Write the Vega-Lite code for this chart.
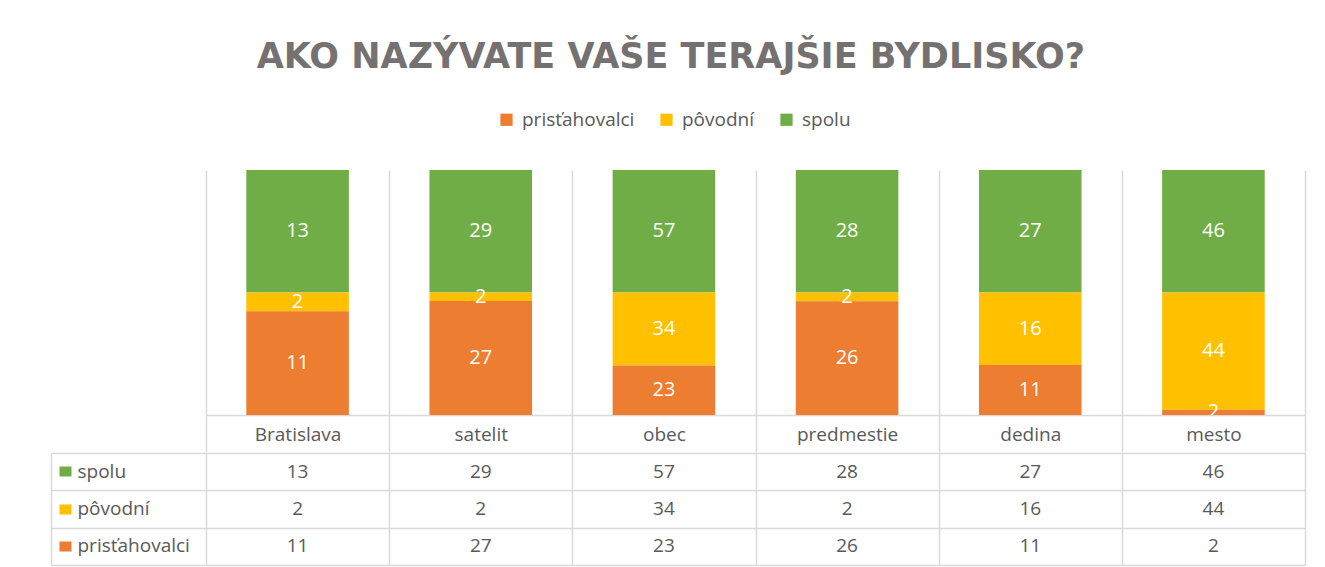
{
  "$schema": "https://vega.github.io/schema/vega-lite/v6.json",
  "background": "white",
  "padding": {"left": 46, "top": 40, "right": 25, "bottom": 3},
  "title": {
    "text": "AKO NAZÝVATE VAŠE TERAJŠIE BYDLISKO?",
    "font": "DejaVu Sans",
    "fontSize": 35,
    "fontWeight": "bold",
    "color": "#767171",
    "anchor": "middle",
    "dx": -5,
    "offset": 35
  },
  "datasets": {
    "d": [
      {"kategoria": "Bratislava", "skupina": "spolu", "pocet": 13},
      {"kategoria": "Bratislava", "skupina": "pôvodní", "pocet": 2},
      {"kategoria": "Bratislava", "skupina": "prisťahovalci", "pocet": 11},
      {"kategoria": "satelit", "skupina": "spolu", "pocet": 29},
      {"kategoria": "satelit", "skupina": "pôvodní", "pocet": 2},
      {"kategoria": "satelit", "skupina": "prisťahovalci", "pocet": 27},
      {"kategoria": "obec", "skupina": "spolu", "pocet": 57},
      {"kategoria": "obec", "skupina": "pôvodní", "pocet": 34},
      {"kategoria": "obec", "skupina": "prisťahovalci", "pocet": 23},
      {"kategoria": "predmestie", "skupina": "spolu", "pocet": 28},
      {"kategoria": "predmestie", "skupina": "pôvodní", "pocet": 2},
      {"kategoria": "predmestie", "skupina": "prisťahovalci", "pocet": 26},
      {"kategoria": "dedina", "skupina": "spolu", "pocet": 27},
      {"kategoria": "dedina", "skupina": "pôvodní", "pocet": 16},
      {"kategoria": "dedina", "skupina": "prisťahovalci", "pocet": 11},
      {"kategoria": "mesto", "skupina": "spolu", "pocet": 46},
      {"kategoria": "mesto", "skupina": "pôvodní", "pocet": 44},
      {"kategoria": "mesto", "skupina": "prisťahovalci", "pocet": 2}
    ]
  },
  "spacing": -2,
  "vconcat": [
    {
      "width": 1099,
      "height": 245,
      "data": {"name": "d"},
      "layer": [
        {
          "mark": {"type": "bar", "width": {"band": 0.56}},
          "encoding": {
            "x": {
              "field": "kategoria", "type": "nominal",
              "sort": ["Bratislava", "satelit", "obec", "predmestie", "dedina", "mesto"],
              "scale": {"paddingInner": 0, "paddingOuter": 0},
              "axis": {
                "title": null, "orient": "bottom",
                "domain": true, "domainColor": "#d9d9d9", "domainWidth": 1.5,
                "grid": true, "gridColor": "#d9d9d9", "gridWidth": 1.5,
                "tickBand": "extent", "ticks": true, "tickSize": 37, "tickColor": "#d9d9d9", "tickWidth": 1.5,
                "labelFont": "Open Sans", "labelFontSize": 19, "labelColor": "#595959",
                "labelPadding": -18, "labelBaseline": "middle", "labelAngle": 0,
                "minExtent": 37, "maxExtent": 37
              }
            },
            "y": {
              "field": "pocet", "type": "quantitative", "stack": "normalize",
              "axis": {"title": null, "labels": true, "labelOpacity": 0, "ticks": false, "domain": false, "grid": false, "minExtent": 155, "maxExtent": 155}
            },
            "color": {
              "field": "skupina", "type": "nominal",
              "scale": {"domain": ["prisťahovalci", "pôvodní", "spolu"], "range": ["#ED7D31", "#FFC000", "#70AD47"]},
              "legend": {
                "title": null, "orient": "none", "legendX": 291, "legendY": -60,
                "direction": "horizontal", "symbolType": "square", "symbolSize": 150,
                "symbolStrokeWidth": 0,
                "labelFont": "Open Sans", "labelFontSize": 19, "labelColor": "#595959",
                "columnPadding": 22, "labelOffset": 6
              }
            },
            "order": {"field": "skupina", "sort": "ascending"}
          }
        },
        {
          "mark": {"type": "text", "color": "white", "font": "Open Sans", "fontSize": 20, "clip": true},
          "encoding": {
            "x": {"field": "kategoria", "type": "nominal", "sort": ["Bratislava", "satelit", "obec", "predmestie", "dedina", "mesto"]},
            "y": {"field": "pocet", "type": "quantitative", "stack": "normalize", "bandPosition": 0.5},
            "detail": {"field": "skupina"},
            "order": {"field": "skupina", "sort": "ascending"},
            "text": {"field": "pocet"}
          }
        }
      ]
    },
    {
      "width": 1099,
      "height": 112,
      "data": {"name": "d"},
      "layer": [
        {
          "mark": {"type": "text", "font": "Open Sans", "fontSize": 19, "color": "#595959"},
          "encoding": {
            "x": {
              "field": "kategoria", "type": "nominal",
              "sort": ["Bratislava", "satelit", "obec", "predmestie", "dedina", "mesto"],
              "scale": {"paddingInner": 0, "paddingOuter": 0},
              "axis": {"title": null, "labels": false, "ticks": false, "domain": false, "grid": true, "gridColor": "#d9d9d9", "gridWidth": 1.5, "tickBand": "extent"}
            },
            "y": {
              "field": "skupina", "type": "nominal",
              "sort": ["spolu", "pôvodní", "prisťahovalci"],
              "scale": {"paddingInner": 0, "paddingOuter": 0},
              "axis": {
                "title": null, "labels": false, "domain": false,
                "grid": true, "gridColor": "#d9d9d9", "gridWidth": 1.5, "tickBand": "extent",
                "ticks": true, "tickSize": 155, "tickColor": "#d9d9d9", "tickWidth": 1.5,
                "minExtent": 155, "maxExtent": 155
              }
            },
            "text": {"field": "pocet"}
          }
        },
        {
          "mark": {"type": "text", "opacity": 0},
          "encoding": {
            "y": {
              "field": "skupina", "type": "nominal",
              "sort": ["spolu", "pôvodní", "prisťahovalci"],
              "axis": {
                "orient": "left", "offset": 155, "title": null,
                "domain": true, "domainColor": "#d9d9d9", "domainWidth": 1.5,
                "grid": false,
                "ticks": true, "tickSize": -20, "tickWidth": 10, "tickDash": [0, 8, 12, 100],
                "tickColor": {"condition": [{"test": "datum.value === 'spolu'", "value": "#70AD47"}, {"test": "datum.value === 'pôvodní'", "value": "#FFC000"}], "value": "#ED7D31"},
                "labelAlign": "left", "labelBaseline": "middle", "labelPadding": -6,
                "labelFont": "Open Sans", "labelFontSize": 19, "labelColor": "#595959",
                "minExtent": 0, "maxExtent": 0
              }
            },
            "text": {"field": "pocet"}
          }
        }
      ],
      "resolve": {"axis": {"y": "independent"}}
    }
  ],
  "config": {"view": {"stroke": null}, "font": "Open Sans"}
}
